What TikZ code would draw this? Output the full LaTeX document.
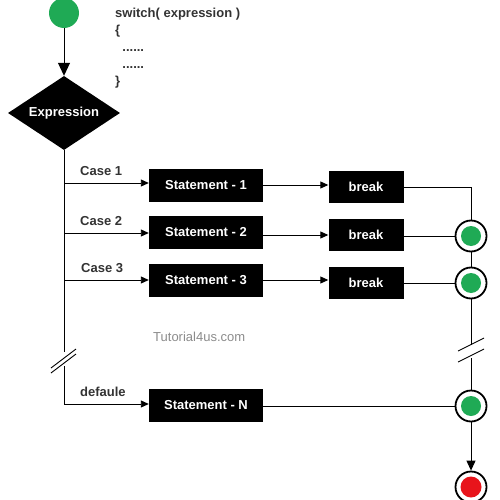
\documentclass[tikz,border=0pt]{standalone}
\usepackage{fontspec}
\setmainfont{Liberation Sans}
\usetikzlibrary{arrows.meta,shapes.geometric}
\definecolor{startgreen}{HTML}{1FAA55}
\definecolor{endred}{HTML}{E8141B}
\definecolor{lbl}{HTML}{333333}
\tikzset{
  box/.style={rectangle,fill=black,text=white,font=\fontsize{13}{15}\selectfont\bfseries,inner sep=0pt},
  stmt/.style={box,minimum width=114pt,minimum height=33pt},
  brk/.style={box,minimum width=75pt,minimum height=32pt},
  lbltext/.style={font=\fontsize{13}{15}\selectfont\bfseries,text=lbl,inner sep=0pt},
  ln/.style={line width=0.9pt,black},
  arr/.style={ln,-{Triangle[length=8pt,width=7pt]}},
  junc/.style={circle,draw=black,line width=1.8pt,fill=white,minimum size=31pt,inner sep=0pt},
}
\begin{document}
\begin{tikzpicture}[x=1pt,y=-1pt]
\useasboundingbox (0,0) rectangle (500,500);
% start
\node[circle,fill=startgreen,minimum size=30pt,inner sep=0pt] (start) at (64,13) {};
% code text
\node[lbltext,anchor=west,align=left] (code) at (115,48) {switch( expression )\\[2pt]\{\\[2pt]\ \ ......\\[2pt]\ \ ......\\[2pt]\}};
% diamond
\node[diamond,fill=black,text=white,font=\fontsize{13}{15}\selectfont\bfseries,minimum width=112pt,minimum height=74pt,inner sep=0pt,aspect=1.5] (expr) at (64,113) {Expression};
\draw[ln,-{Triangle[length=13pt,width=12pt]}] (start) -- (expr.north);
% statements
\node[stmt] (s1) at (206,185) {Statement - 1};
\node[stmt] (s2) at (206,232) {Statement - 2};
\node[stmt] (s3) at (206,280) {Statement - 3};
\node[stmt] (sn) at (206,405) {Statement - N};
% breaks
\node[brk] (b1) at (366,187) {break};
\node[brk] (b2) at (366,235) {break};
\node[brk] (b3) at (366,283) {break};
% junctions
\node[junc] (j2) at (471,236) {};
\node[junc] (j3) at (471,283) {};
\node[junc] (j4) at (471,406) {};
\node[junc] (jend) at (471,487) {};
\fill[startgreen] (j2) circle (10);
\fill[startgreen] (j3) circle (10);
\fill[startgreen] (j4) circle (10);
\fill[endred] (jend) circle (10.5);
% left trunk
\coordinate (c1) at (64,183);
\coordinate (c2) at (64,233);
\coordinate (c3) at (64,280);
\coordinate (cn) at (64,404);
\coordinate (lgtop) at (64,352);
\coordinate (lgbot) at (64,366);
\draw[ln] (expr.south) -- (lgtop);
\draw[ln] (lgbot) -- (cn);
\draw[ln] (51,368) -- (76,349);
\draw[ln] (51,373) -- (76,354);
\draw[arr] (c1) -- (s1.west |- c1);
\draw[arr] (c2) -- (s2.west |- c2);
\draw[arr] (c3) -- (s3.west |- c3);
\draw[arr] (cn) -- (sn.west |- cn);
\node[lbltext,anchor=south west] (l1) at (80,176) {Case 1};
\node[lbltext,anchor=south west] (l2) at (80,226) {Case 2};
\node[lbltext,anchor=south west] (l3) at (81,273) {Case 3};
\node[lbltext,anchor=south west] (ln) at (80,397) {defaule};
% statement to break
\draw[arr] (s1.east) -- (b1.west |- s1.east);
\draw[arr] (s2.east |- b2.west) -- (b2.west);
\draw[arr] (s3.east) -- (b3.west |- s3.east);
% right side
\coordinate (r1) at (471,187);
\draw[ln] (b1.east) -- (r1) -- (j2.north);
\draw[ln] (b2.east |- j2.west) -- (j2.west);
\draw[ln] (b3.east) -- (j3.west);
\draw[ln] (j2.south) -- (j3.north);
\coordinate (rgtop) at (471,345);
\coordinate (rgbot) at (471,358);
\draw[ln] (j3.south) -- (rgtop);
\draw[ln] (rgbot) -- (j4.north);
\draw[ln] (458,351) -- (484,338);
\draw[ln] (458,362) -- (484,349);
\draw[ln] (sn.east |- j4.west) -- (j4.west);
\draw[ln,-{Triangle[length=10pt,width=9pt]}] (j4.south) -- (jend.north);
% watermark
\node[font=\fontsize{13}{15}\selectfont,text=black!45,anchor=west,inner sep=0pt] (wm) at (153,337) {Tutorial4us.com};
\end{tikzpicture}
\end{document}
